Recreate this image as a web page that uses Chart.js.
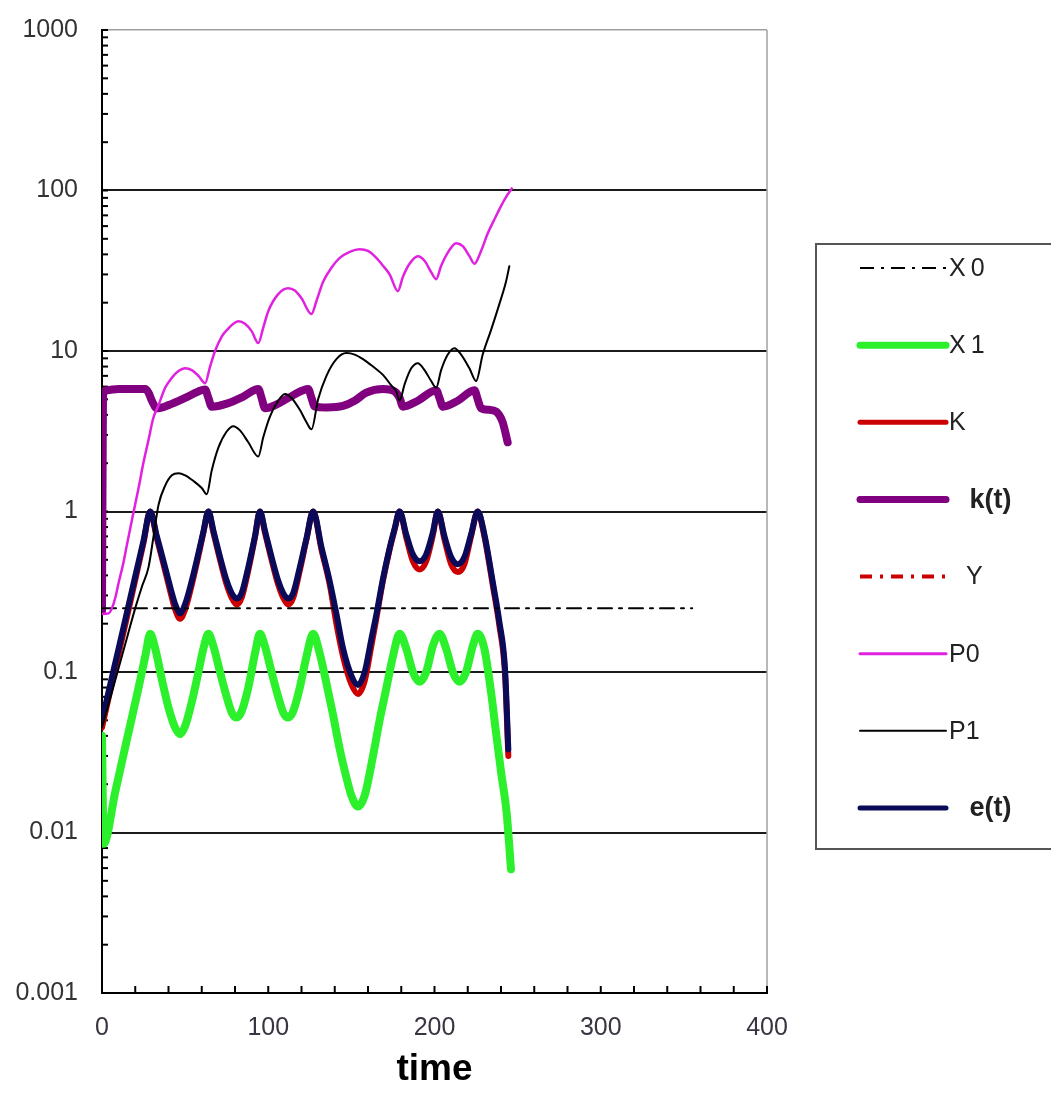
<!DOCTYPE html>
<html>
<head>
<meta charset="utf-8">
<script src="https://cdn.jsdelivr.net/npm/chart.js@4/dist/chart.umd.min.js"></script>
<style>
  html, body { margin: 0; padding: 0; background: #ffffff; }
  #wrap { width: 1051px; height: 1095px; }
  canvas { display: block; }
</style>
</head>
<body>
<div id="wrap"><canvas id="c" width="1051" height="1095"></canvas></div>
<script>
// ---------- data ----------
const xTickValues = [0, 100, 200, 300, 400];
const xTickLabels = ['0', '100', '200', '300', '400'];
const yMajorValues = [0.001, 0.01, 0.1, 1, 10, 100, 1000];
const yTickLabels = ['0.001', '0.01', '0.1', '1', '10', '100', '1000'];

const legendOrder = ['X0', 'X1', 'K', 'k(t)', 'Y', 'P0', 'P1', 'e(t)'];

const x0Time = [0, 355];
const x0Values = [0.25, 0.25];

const x1Time = [0,1,8,15,22,26,29,32,36,40,44,47,50,54,58,61,64,67,71,75,78,81,84,88,92,95,98,102,106,109,112,115,119,123,127,131,135,139,143,147,150,154,158,163,167,171,175,179,183,187,191,195,199,203,207,211,215,219,223,226,230,234,237,240,243.5,246];
const x1Values = [0.04,0.0085,0.018,0.038,0.08,0.125,0.173,0.14,0.09,0.06,0.045,0.041,0.046,0.065,0.1,0.14,0.173,0.145,0.1,0.07,0.056,0.052,0.057,0.08,0.13,0.173,0.145,0.1,0.07,0.056,0.052,0.057,0.08,0.125,0.173,0.13,0.085,0.054,0.033,0.022,0.017,0.0145,0.017,0.03,0.05,0.079,0.125,0.173,0.14,0.1,0.087,0.1,0.145,0.173,0.14,0.1,0.087,0.1,0.145,0.173,0.14,0.075,0.042,0.024,0.0129,0.0059];

const eTime = [0,5,10,15,20,25,29,33,37,41,44,47,50,54,58,61,64,67,71,75,78,81,84,88,92,95,98,102,106,109,112,115,119,123,127,132,137,141,145,150,154,158,162,165,169,173,176,179,183,187,191,195,199,202,206,210,214,218,222,226,230,235,239,242.4,244.4];
const eValues = [0.05,0.084,0.14,0.235,0.395,0.66,1.0,0.7,0.49,0.34,0.265,0.232,0.265,0.37,0.55,0.75,1.0,0.76,0.52,0.37,0.31,0.287,0.31,0.45,0.7,1.0,0.76,0.52,0.37,0.31,0.287,0.31,0.45,0.68,1.0,0.6,0.366,0.23,0.14,0.095,0.083,0.1,0.16,0.227,0.38,0.59,0.78,1.0,0.72,0.54,0.49,0.54,0.74,1.0,0.7,0.52,0.47,0.52,0.72,1.0,0.72,0.366,0.206,0.105,0.033];

const kCapTime = eTime;
const kCapValues = [0.045,0.077,0.13,0.22,0.375,0.64,1.0,0.68,0.47,0.32,0.245,0.215,0.245,0.35,0.53,0.74,1.0,0.74,0.5,0.35,0.29,0.263,0.29,0.43,0.69,1.0,0.74,0.5,0.35,0.29,0.263,0.29,0.43,0.67,1.0,0.58,0.35,0.2,0.125,0.084,0.073,0.088,0.145,0.215,0.37,0.58,0.77,1.0,0.69,0.49,0.435,0.49,0.71,1.0,0.67,0.47,0.42,0.47,0.7,1.0,0.7,0.35,0.195,0.098,0.030];

const kTime = [0,0.6,3,10,20,26,28,30,33,40,50,58,62,64,66,75,85,94,96,98,106,115,124,126,128,135,145,152,159,169,176,179,181,190,201,203,205,214,224,226,228,233,237,241,244];
const kValues = [0.24,5.3,5.7,5.8,5.8,5.8,5.5,4.9,4.4,4.6,5.1,5.6,5.75,5.1,4.5,4.7,5.2,5.8,5.1,4.4,4.7,5.3,5.8,5.1,4.5,4.45,4.55,4.9,5.5,5.8,5.6,5.1,4.5,4.9,5.7,5.1,4.5,4.9,5.7,5.0,4.4,4.3,4.2,3.6,2.7];

const yTime = [];
const yValues = [];

const p0Time = [0,4,6,8,10,12.7,15,18.7,22,24.7,28,30.8,34,38,42,46,50,54,58,62,65,68,72,76,79,82,86,90,94,97,100,106,112,116,120,126,129,133,138,143,149,155,160,165,169,173,178,181,185,190,194,198,201,204,208,213,217,221,224,228,232,236,240,243,246.5];
const p0Values = [0.23,0.232,0.25,0.29,0.36,0.47,0.62,0.96,1.4,1.96,2.8,3.8,4.6,5.9,6.8,7.5,7.8,7.6,7.0,6.3,8.0,10,12.3,13.8,14.8,15.3,14.8,13.3,11.2,14,17.7,22.6,24.6,23.8,21.3,17,20.5,27,33,38,41.5,43,42,38,34,30,23.6,29,35,39,36.5,31,28,34,41,47,45,39,35,42,54,66,80,91,103];

const p1Time = [0,5,10,15,20,24,28,31,34,38,42,46,50,55,60,63,66,70,75,79,83,88,94,97,101,106,110,114,119,123,126,130,135,141,147,152,157,163,169,174,177,179,182,186,190,194,198,201,204,208,212,216,221,225,229,234,239,243,245];
const p1Values = [0.045,0.069,0.106,0.163,0.25,0.34,0.45,0.7,1.1,1.45,1.68,1.73,1.68,1.55,1.4,1.28,1.8,2.5,3.15,3.4,3.2,2.7,2.2,2.9,3.9,4.9,5.4,5.1,4.3,3.6,3.25,5.0,7.0,8.9,9.7,9.5,8.9,8.0,7.1,6.1,5.6,4.9,6.2,7.8,8.4,7.6,6.5,5.9,7.6,9.5,10.4,9.5,7.8,6.5,9.5,13.5,19.6,27,33.7];

// ---------- helpers ----------
const pts = (ts, vs) => ts.map((t, i) => ({ x: t, y: vs[i] }));
const isMajor = v => yMajorValues.some(m => Math.abs(m - v) / m < 1e-6);

Chart.defaults.font.family = "'Liberation Sans', Arial, sans-serif";

const datasets = [
  { label: 'X0', data: pts(x0Time, x0Values), borderColor: '#000000', borderWidth: 2, borderDash: [14, 7, 3, 7], order: 2, legendWidth: 2, cubicInterpolationMode: 'default', tension: 0 },
  { label: 'X1', data: pts(x1Time, x1Values), borderColor: '#2cf02c', borderWidth: 8, order: 3, legendWidth: 7 },
  { label: 'K', data: pts(kCapTime, kCapValues), borderColor: '#cc0000', borderWidth: 6, order: 5, legendWidth: 5 },
  { label: 'k(t)', data: pts(kTime, kValues), borderColor: '#800080', borderWidth: 8, order: 6, legendWidth: 7, bold: true },
  { label: 'Y', data: pts(yTime, yValues), borderColor: '#cc0000', borderWidth: 3, borderDash: [12, 8, 3, 8], order: 7, legendWidth: 4 },
  { label: 'P0', data: pts(p0Time, p0Values), borderColor: '#e022e0', borderWidth: 2.5, order: 1, legendWidth: 3 },
  { label: 'P1', data: pts(p1Time, p1Values), borderColor: '#000000', borderWidth: 2, order: 0, legendWidth: 2 },
  { label: 'e(t)', data: pts(eTime, eValues), borderColor: '#0a0a58', borderWidth: 6, order: 4, legendWidth: 5, bold: true }
];
datasets.forEach(d => {
  d.fill = false;
  d.pointRadius = 0;
  d.borderCapStyle = 'round';
  d.borderJoinStyle = 'round';
  if (!d.cubicInterpolationMode) d.cubicInterpolationMode = 'monotone';
});

// ---------- plugins ----------
const frameTicks = {
  id: 'frameTicks',
  beforeDatasetsDraw(chart) {
    const { ctx, chartArea: a, scales: { x, y } } = chart;
    ctx.save();
    ctx.strokeStyle = '#a0a0a0';
    ctx.lineWidth = 1.5;
    ctx.beginPath();
    ctx.moveTo(a.right, a.top);
    ctx.lineTo(a.right, a.bottom);
    ctx.stroke();
    ctx.strokeStyle = '#000000';
    ctx.lineWidth = 2;
    y.ticks.forEach(t => {
      const py = y.getPixelForValue(t.value);
      ctx.beginPath();
      ctx.moveTo(a.left, py);
      ctx.lineTo(a.left + 6, py);
      ctx.stroke();
    });
    x.ticks.forEach(t => {
      const px = x.getPixelForValue(t.value);
      ctx.beginPath();
      ctx.moveTo(px, a.bottom);
      ctx.lineTo(px, a.bottom - 7);
      ctx.stroke();
    });
    ctx.restore();
  }
};

const boxLegend = {
  id: 'boxLegend',
  afterDraw(chart) {
    const { ctx, chartArea: a } = chart;
    const left = a.right + 49, top = 244, bottom = 849;
    ctx.save();
    ctx.fillStyle = '#ffffff';
    ctx.fillRect(left, top, chart.width - left + 10, bottom - top);
    ctx.strokeStyle = '#555555';
    ctx.lineWidth = 2;
    ctx.strokeRect(left, top, chart.width - left + 10, bottom - top);
    const step = (808 - 268) / (legendOrder.length - 1);
    legendOrder.forEach((label, i) => {
      const ds = chart.data.datasets.find(d => d.label === label);
      const cy = 268 + i * step;
      ctx.strokeStyle = ds.borderColor;
      ctx.lineWidth = ds.legendWidth;
      ctx.lineCap = ds.borderDash ? 'butt' : 'round';
      ctx.setLineDash(ds.borderDash || []);
      ctx.beginPath();
      ctx.moveTo(left + 44, cy);
      ctx.lineTo(left + 130, cy);
      ctx.stroke();
      ctx.setLineDash([]);
      ctx.fillStyle = '#222222';
      ctx.textBaseline = 'middle';
      ctx.textAlign = 'left';
      if (ds.bold) {
        ctx.font = "bold 27px 'Liberation Sans', Arial, sans-serif";
        ctx.fillText(' ' + label, left + 146, cy + 1);
      } else {
        ctx.font = "25px 'Liberation Sans', Arial, sans-serif";
        ctx.letterSpacing = label.charAt(0) === 'X' ? '5px' : '0px';
        ctx.fillText(label, left + (label === 'Y' ? 150 : 133), cy + 1);
        ctx.letterSpacing = '0px';
      }
    });
    ctx.restore();
  }
};

// ---------- chart ----------
new Chart(document.getElementById('c'), {
  type: 'line',
  data: { datasets },
  options: {
    responsive: false,
    animation: false,
    layout: { padding: { top: 30, right: 284, left: 0, bottom: 0 } },
    plugins: { legend: { display: false }, tooltip: { enabled: false } },
    scales: {
      x: {
        type: 'linear',
        min: 0,
        max: 400,
        afterFit: s => { s.height = 102; s.paddingLeft = 0; s.paddingRight = 0; },
        grid: { display: false, drawTicks: false },
        border: { display: true, color: '#000000', width: 2 },
        ticks: {
          stepSize: 20,
          autoSkip: false,
          maxRotation: 0,
          padding: 20,
          color: '#3a3440',
          font: { size: 25 },
          callback: v => { const i = xTickValues.indexOf(v); return i >= 0 ? xTickLabels[i] : ''; }
        },
        title: { display: true, text: 'time', color: '#000000', font: { size: 37, weight: 'bold' }, padding: { top: 0, bottom: 3 } }
      },
      y: {
        type: 'logarithmic',
        min: 0.001,
        max: 1000,
        afterFit: s => { s.width = 102; s.paddingTop = 0; s.paddingBottom = 0; },
        afterBuildTicks: s => {
          const out = [];
          for (let e = -3; e <= 2; e++) {
            for (let m = 1; m <= 9; m++) out.push({ value: Number((m * Math.pow(10, e)).toPrecision(3)) });
          }
          out.push({ value: 1000 });
          s.ticks = out;
        },
        grid: {
          drawTicks: false,
          color: c => {
            const v = c.tick ? c.tick.value : 0;
            if (!isMajor(v)) return 'rgba(0,0,0,0)';
            return v >= 1000 ? '#a0a0a0' : '#1a1a1a';
          },
          lineWidth: c => (c.tick && c.tick.value >= 1000 ? 1.5 : 2)
        },
        border: { display: true, color: '#000000', width: 2 },
        ticks: {
          autoSkip: false,
          padding: 24,
          color: '#333333',
          font: { size: 25 },
          callback: v => { const i = yMajorValues.findIndex(m => Math.abs(m - v) / m < 1e-6); return i >= 0 ? yTickLabels[i] : ''; }
        }
      }
    }
  },
  plugins: [frameTicks, boxLegend]
});
</script>
</body>
</html>
